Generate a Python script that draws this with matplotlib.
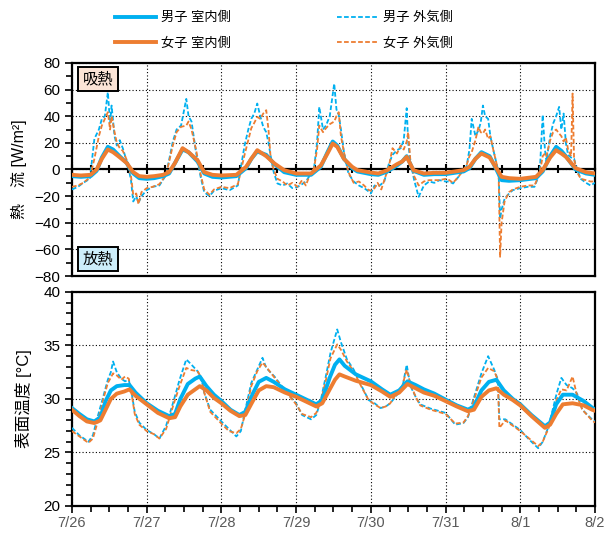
import numpy as np
import matplotlib.pyplot as plt
from matplotlib.ticker import MultipleLocator

plt.rcParams['font.family'] = ['Liberation Sans', 'Noto Sans CJK JP']

day_labels = ['7/26', '7/27', '7/28', '7/29', '7/30', '7/31', '8/1', '8/2']

# 熱流 室内側 (経過日数, W/m2)
t_hf_in = [0.0, 0.12, 0.25, 0.33, 0.4, 0.48, 0.55, 0.62, 0.73, 0.82, 0.9, 1.0, 1.1, 1.22, 1.3,
           1.38, 1.48, 1.56, 1.68, 1.77, 1.88, 2.0, 2.2, 2.33, 2.4, 2.48, 2.6, 2.71, 2.84, 3.0,
           3.2, 3.33, 3.42, 3.49, 3.55, 3.64, 3.75, 3.82, 4.0, 4.1, 4.22, 4.35, 4.42, 4.48, 4.57,
           4.71, 4.85, 5.0, 5.24, 5.32, 5.4, 5.48, 5.59, 5.68, 5.75, 5.85, 6.0, 6.21, 6.3, 6.4,
           6.48, 6.55, 6.61, 6.74, 6.88, 7.0]
hf_m_in = [-5, -5.5, -5, -1, 9, 17, 15, 11, 5, -3, -6.5, -7, -6.5, -5, -3,
           5, 15, 13, 6, -3, -5.5, -6, -5, 1, 8, 13.5, 11, 4, -2, -4,
           -4, 2, 13, 21, 18, 8, 1, -1.5, -3.5, -4, -1.5, 3, 6, 10, -1,
           -4, -3.5, -3.5, -1.5, 1, 8, 13, 10, 0, -8, -8.5, -8, -6.5, -1.5, 10,
           17, 14, 10, 0, -3, -4]
hf_f_in = [-4, -4.5, -4, 0, 8, 15, 13, 10, 5, -2, -5, -5.5, -5, -4, -2,
           5, 16, 13, 7, -2, -4, -4.5, -4, 2, 8, 14.5, 10, 4.5, -0.5, -3,
           -3, 3, 12, 19.5, 17, 8, 2, -0.5, -2.3, -3, -0.5, 4, 6, 9.5, -0.5,
           -3, -2.5, -2.5, -0.5, 2, 8, 12, 9, 1, -5.5, -6.5, -7, -5.5, -0.5, 9,
           14.5, 12, 9.5, 1, -2, -3]

# 熱流 外気側
t_hf_out = [0.0, 0.08, 0.15, 0.24, 0.3, 0.36, 0.4, 0.44, 0.48, 0.51, 0.53, 0.57, 0.6, 0.64, 0.68,
            0.75, 0.79, 0.82, 0.86, 0.89, 0.93, 1.0, 1.08, 1.17, 1.26, 1.35, 1.4, 1.46, 1.53, 1.56,
            1.6, 1.66, 1.72, 1.77, 1.84, 1.9, 2.0, 2.11, 2.22, 2.31, 2.36, 2.4, 2.44, 2.48, 2.52,
            2.56, 2.6, 2.63, 2.66, 2.7, 2.75, 2.82, 2.88, 2.95, 3.02, 3.08, 3.13, 3.19, 3.24, 3.28,
            3.31, 3.36, 3.4, 3.45, 3.51, 3.54, 3.57, 3.6, 3.64, 3.7, 3.77, 3.84, 3.91, 3.96, 4.0,
            4.05, 4.09, 4.14, 4.18, 4.24, 4.29, 4.35, 4.4, 4.44, 4.48, 4.5, 4.53, 4.58, 4.64, 4.71,
            4.78, 4.85, 4.92, 5.0, 5.05, 5.1, 5.18, 5.24, 5.28, 5.32, 5.35, 5.4, 5.44, 5.47, 5.5,
            5.53, 5.57, 5.6, 5.64, 5.68, 5.71, 5.73, 5.75, 5.79, 5.85, 5.9, 6.0, 6.1, 6.19, 6.26,
            6.3, 6.33, 6.35, 6.4, 6.44, 6.48, 6.52, 6.55, 6.58, 6.61, 6.64, 6.68, 6.7, 6.72, 6.76,
            6.81, 6.88, 6.94, 7.0]
hf_m_out = [-15, -13, -10, -7, 23, 30, 38, 40, 58, 35, 48, 25, 18, 22, 16,
            3, -8, -24, -20, -25, -20, -15.5, -13, -12, -4, 21, 30, 33, 53, 40,
            36, 13, -5, -17, -20, -16, -14, -15.5, -12, 18, 30, 38, 42, 49.5, 40,
            32, 28, 20, 10, -2, -10.5, -12, -10.5, -14, -13, -11, -9, -4, 1, 20,
            47, 30, 33, 40, 64.5, 45, 41, 30, 13, -3, -9, -12, -14, -16, -18,
            -12, -13, -11, -9, 4, 11, 14.5, 16, 22, 46, 20, 6, -8, -20.5, -12,
            -9, -10, -8, -9, -9, -10.5, -5, 0, 2, 15, 38, 25, 29.5, 35, 48,
            40, 38, 25, 14.5, 5, -2, -37, -30, -22, -18, -15.5, -14, -13, -13, -3,
            41, 15, 6, 25, 34.5, 40, 47, 30, 42, 20, 11, 9, 8, 8, 0,
            -7, -10, -12, -10]
hf_f_out = [-13, -12, -10, -6, 8, 25, 33, 38, 43, 30, 40, 28, 20, 16, 14,
            5, -5, -19, -18, -26, -17, -14, -13, -11, -4, 18, 28, 32, 33, 36,
            30, 15, -3, -15, -19, -15, -13, -14, -11, 11, 22, 31, 35, 39.5, 38,
            42, 44.5, 30, 8, 0, -7, -9, -12, -10, -13, -8, -12, -3, 1, 15,
            33, 28, 31, 34, 36, 40, 43, 25, 13, -2, -10, -9, -12, -15, -16,
            -14, -10, -15, -8, 2, 16, 12, 18, 15, 21, 28, 6, -5, -12, -9,
            -8, -8, -8, -7, -8, -10, -5, 0, 3, 10, 13, 22, 32, 28, 27,
            30, 23, 25, 14.5, 5, -2, -65.5, -40, -24, -17, -15, -13, -12, -12, -3,
            10, 12, 10, 22, 28, 30, 27, 25, 21, 24, 15, 10, 57, 8, -2,
            -7, -8, -9, -9]

# 表面温度 室内側 (°C)
t_ts_in = [0.0, 0.1, 0.2, 0.3, 0.38, 0.45, 0.52, 0.6, 0.7, 0.77, 0.85, 1.0, 1.15, 1.3, 1.38,
           1.45, 1.55, 1.65, 1.71, 1.8, 1.9, 2.0, 2.12, 2.24, 2.32, 2.42, 2.5, 2.6, 2.7, 2.85,
           3.0, 3.15, 3.27, 3.35, 3.45, 3.52, 3.58, 3.65, 3.8, 4.0, 4.15, 4.26, 4.38, 4.49, 4.6,
           4.71, 4.85, 5.0, 5.15, 5.3, 5.38, 5.48, 5.58, 5.68, 5.78, 5.9, 6.0, 6.15, 6.33, 6.4,
           6.48, 6.57, 6.7, 6.85, 6.96, 7.0]
ts_m_in = [29.15, 28.6, 28.1, 27.9, 28.3, 29.8, 30.8, 31.2, 31.3, 31.3, 30.6, 29.6, 28.9, 28.4, 28.6,
           30.0, 31.4, 31.9, 32.1, 31.2, 30.4, 29.8, 29.0, 28.5, 28.8, 30.5, 31.6, 31.97, 31.6, 30.9,
           30.4, 29.9, 29.5, 29.9, 32.0, 33.2, 33.7, 33.1, 32.3, 31.65, 30.9, 30.4, 30.8, 31.65, 31.3,
           30.9, 30.5, 29.94, 29.4, 29.0, 29.3, 30.8, 31.6, 31.8, 30.8, 30.0, 29.5, 28.5, 27.45, 27.8,
           29.5, 30.4, 30.4, 29.8, 29.2, 29.0]
ts_f_in = [29.0, 28.4, 27.9, 27.75, 28.0, 29.0, 30.0, 30.5, 30.7, 30.9, 30.3, 29.5, 28.7, 28.2, 28.3,
           29.3, 30.4, 30.9, 31.2, 30.8, 30.1, 29.6, 28.9, 28.4, 28.5, 29.8, 30.8, 31.2, 31.1, 30.6,
           30.2, 29.7, 29.3, 29.6, 30.9, 31.8, 32.3, 32.1, 31.7, 31.3, 30.7, 30.2, 30.6, 31.4, 31.0,
           30.6, 30.3, 29.8, 29.3, 28.85, 29.0, 30.2, 30.8, 31.0, 30.4, 29.9, 29.4, 28.4, 27.3, 27.6,
           28.6, 29.5, 29.6, 29.4, 29.0, 28.9]

# 表面温度 外気側
t_ts_out = [0.0, 0.1, 0.22, 0.28, 0.35, 0.42, 0.48, 0.52, 0.55, 0.6, 0.66, 0.71, 0.76, 0.8, 0.84,
            0.9, 1.0, 1.1, 1.17, 1.26, 1.36, 1.44, 1.53, 1.6, 1.68, 1.73, 1.77, 1.85, 2.0, 2.1,
            2.2, 2.26, 2.32, 2.4, 2.48, 2.55, 2.6, 2.71, 2.85, 3.0, 3.08, 3.2, 3.27, 3.33, 3.4,
            3.46, 3.55, 3.6, 3.68, 3.77, 3.87, 3.97, 4.05, 4.13, 4.2, 4.26, 4.35, 4.42, 4.48, 4.53,
            4.6, 4.66, 4.8, 5.0, 5.13, 5.24, 5.3, 5.37, 5.48, 5.57, 5.65, 5.7, 5.72, 5.8, 5.9,
            6.0, 6.12, 6.24, 6.3, 6.38, 6.49, 6.55, 6.62, 6.7, 6.76, 6.83, 6.96, 7.0]
ts_m_out = [27.3, 26.6, 26.0, 26.6, 28.5, 30.25, 31.8, 32.5, 33.5, 32.5, 31.9, 31.65, 31.8, 30.5, 28.8,
            27.8, 27.1, 26.7, 26.3, 27.5, 29.8, 31.8, 33.7, 33.2, 32.6, 32.0, 30.6, 29.0, 27.9, 27.2,
            26.5, 27.0, 29.0, 31.5, 32.75, 33.85, 32.9, 32.1, 30.8, 29.6, 28.5, 28.1, 28.5, 29.9, 32.2,
            34.3, 36.5, 35.3, 33.7, 32.75, 31.3, 29.9, 29.6, 29.15, 29.3, 29.6, 30.4, 31.0, 33.2, 31.2,
            30.2, 29.5, 29.1, 28.7, 27.6, 27.75, 28.3, 29.9, 32.4, 34.0, 32.75, 31.8, 28.1, 28.1, 27.6,
            27.1, 26.2, 25.4, 26.0, 27.45, 30.6, 31.97, 31.3, 31.0, 30.5, 29.0, 28.1, 27.9]
ts_f_out = [27.0, 26.5, 25.9, 26.3, 28.0, 30.0, 31.5, 32.0, 32.4, 32.2, 31.8, 32.1, 31.9, 30.4, 28.6,
            27.6, 27.0, 26.7, 26.3, 27.2, 29.5, 31.2, 32.9, 32.7, 32.6, 32.0, 30.6, 28.8, 27.7, 27.0,
            26.8, 27.2, 28.6, 31.2, 32.6, 33.4, 33.0, 32.0, 30.8, 29.5, 28.6, 28.3, 28.7, 29.8, 31.8,
            33.8, 35.1, 34.6, 33.5, 32.6, 31.2, 29.9, 29.5, 29.15, 29.3, 29.6, 30.6, 31.2, 32.75, 31.4,
            30.2, 29.4, 29.0, 28.6, 27.7, 27.8, 28.4, 29.7, 32.0, 32.9, 32.6, 31.8, 27.3, 28.0, 27.5,
            27.0, 26.3, 25.6, 26.0, 27.3, 30.0, 30.9, 30.8, 32.1, 30.3, 29.0, 28.0, 27.8]

BLUE = '#00B0F0'
ORANGE = '#ED7D31'
DASH = (2.6, 1.3)

fig = plt.figure(figsize=(6.12, 5.33), dpi=100)
ax1 = fig.add_axes([0.1176, 0.482, 0.8546, 0.400])
ax2 = fig.add_axes([0.1176, 0.0507, 0.8546, 0.4015])

# 熱流
ax1.plot(t_hf_out, hf_m_out, color=BLUE, lw=1.3, dashes=DASH, zorder=3)
ax1.plot(t_hf_out, hf_f_out, color=ORANGE, lw=1.3, dashes=DASH, zorder=3)
ax1.plot(t_hf_in, hf_m_in, color=BLUE, lw=2.8, zorder=4)
ax1.plot(t_hf_in, hf_f_in, color=ORANGE, lw=2.8, zorder=4)

# 表面温度
l3, = ax2.plot(t_ts_out, ts_m_out, color=BLUE, lw=1.3, dashes=DASH, zorder=3)
l4, = ax2.plot(t_ts_out, ts_f_out, color=ORANGE, lw=1.3, dashes=DASH, zorder=3)
l1, = ax2.plot(t_ts_in, ts_m_in, color=BLUE, lw=2.8, zorder=4)
l2, = ax2.plot(t_ts_in, ts_f_in, color=ORANGE, lw=2.8, zorder=4)

for ax in (ax1, ax2):
    ax.set_xlim(0, 7)
    ax.xaxis.set_major_locator(MultipleLocator(1))
    ax.xaxis.set_minor_locator(MultipleLocator(0.25))
    ax.grid(True, which='major', color='black', ls=(0, (1, 2)), lw=0.8)
    for s in ax.spines.values():
        s.set_linewidth(1.6)
    ax.tick_params(axis='y', which='both', direction='out', labelsize=11, width=1.2)
    ax.tick_params(axis='y', which='major', length=5)
    ax.tick_params(axis='y', which='minor', length=4)

ax1.set_ylim(-80, 80)
ax1.yaxis.set_major_locator(MultipleLocator(20))
ax1.yaxis.set_minor_locator(MultipleLocator(10))
# 0 W/m2 の位置に時間軸を置く
ax1.spines['bottom'].set_position(('data', 0))
ax1.axhline(-80, color='black', lw=1.6, clip_on=False, zorder=5)
ax1.tick_params(axis='x', which='both', direction='inout', labelbottom=False, width=1.5)
ax1.tick_params(axis='x', which='major', length=7)
ax1.tick_params(axis='x', which='minor', length=6)
ax1.set_ylabel('熱　流 [W/m²]', fontsize=11.5, labelpad=5)

ax2.set_ylim(20, 40)
ax2.yaxis.set_major_locator(MultipleLocator(5))
ax2.yaxis.set_minor_locator(MultipleLocator(1))
ax2.set_xticks(range(len(day_labels)))
ax2.set_xticklabels(day_labels)
ax2.tick_params(axis='x', which='both', direction='out', labelsize=10.5, labelcolor='#595959',
                width=1.2, pad=2)
ax2.tick_params(axis='x', which='major', length=5)
ax2.tick_params(axis='x', which='minor', length=4)
ax2.set_ylabel('表面温度 [°C]', fontsize=12, labelpad=8)

ax1.text(0.05, 0.925, '吸熱', transform=ax1.transAxes, fontsize=11, ha='center', va='center',
         zorder=6, bbox=dict(boxstyle='square,pad=0.3', fc='#FBE4D6', ec='black', lw=1.4))
ax1.text(0.05, 0.08, '放熱', transform=ax1.transAxes, fontsize=11, ha='center', va='center',
         zorder=6, bbox=dict(boxstyle='square,pad=0.3', fc='#CDEEFA', ec='black', lw=1.4))

fig.legend([l1, l2, l3, l4], ['男子 室内側', '女子 室内側', '男子 外気側', '女子 外気側'],
           ncol=2, loc='center', bbox_to_anchor=(0.464, 0.942), frameon=False, fontsize=9.5,
           handlelength=3.1, columnspacing=8.0, labelspacing=1.0, handletextpad=0.4)

fig.savefig('out.png', dpi=100)
